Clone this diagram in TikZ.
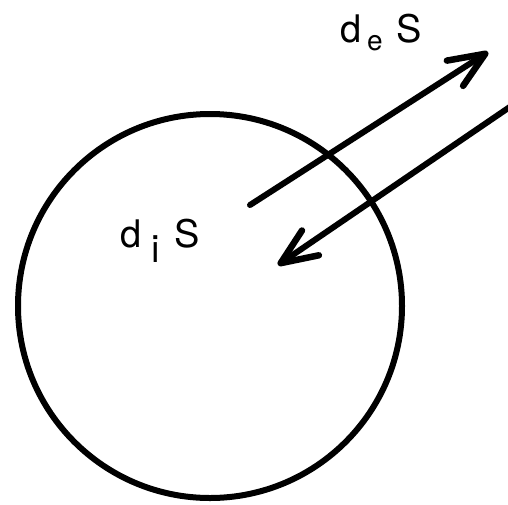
\documentclass[tikz,border=0pt]{standalone}
\usepackage{fontspec}
\setmainfont{TeX Gyre Heros}
\usetikzlibrary{arrows.meta}
\begin{document}
\begin{tikzpicture}[x=1pt,y=-1pt,
  wire/.style={line width=6pt, line cap=round, line join=round},
  flow/.style={wire, -{Straight Barb[length=36pt,width=30pt,line width=6.5pt,line cap=round,line join=round]}},
  big/.style={inner sep=0pt, anchor=base west, font=\fontsize{38}{38}\selectfont},
  small/.style={inner sep=0pt, anchor=base west, font=\fontsize{28}{28}\selectfont},
  mid/.style={inner sep=0pt, anchor=base west, font=\fontsize{38}{38}\selectfont}]
\useasboundingbox (0,0) rectangle (508,504);
\node[wire, draw, circle, minimum size=384pt, inner sep=0pt] (sys) at (210,306) {};
\coordinate (outS) at (250,205);
\coordinate (outE) at (488,52);
\coordinate (inS) at (520,100);
\coordinate (inE) at (278,265);
\draw[flow] (outS) -- (outE);
\draw[flow] (inS) -- (inE);
\node[big] (deD) at (340,42) {d};
\node[small] (deE) at (367,50) {e};
\node[big] (deS) at (396,42) {S};
\node[big] (diD) at (120,247) {d};
\node[mid] (diI) at (151,262) {i};
\node[big] (diS) at (174,247) {S};
\end{tikzpicture}
\end{document}
